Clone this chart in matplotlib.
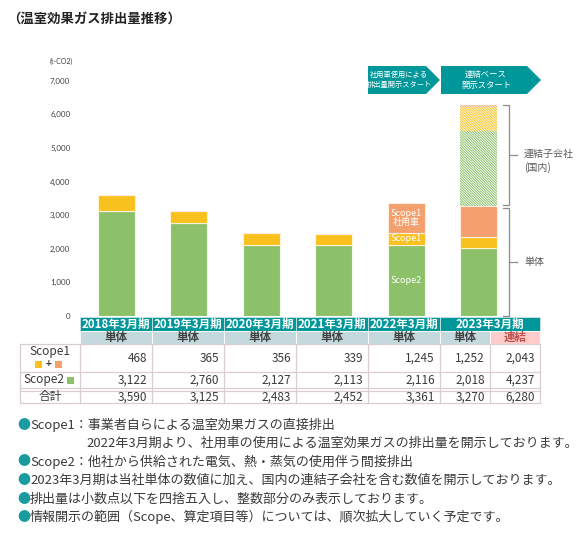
import matplotlib.pyplot as plt
from matplotlib.patches import Polygon, Rectangle
from matplotlib.ticker import FuncFormatter

plt.rcParams['font.family'] = ['Noto Sans CJK JP', 'DejaVu Sans']

# data (t-CO2)
years = ['2018年3月期', '2019年3月期', '2020年3月期', '2021年3月期', '2022年3月期', '2023年3月期']
scope2 = [3122, 2760, 2127, 2113, 2116, 2018]
scope1 = [468, 365, 356, 339, 350, 340]        # scope1 without company cars
scope1_car = [0, 0, 0, 0, 895, 912]            # scope1 company cars
# consolidated subsidiaries (domestic), 2023 only
sub_scope2 = 2219
sub_scope1 = 740
sub_scope1_car = 51

# table
tbl_heads = ['単体', '単体', '単体', '単体', '単体', '単体', '連結']
tbl_scope1 = [468, 365, 356, 339, 1245, 1252, 2043]
tbl_scope2 = [3122, 2760, 2127, 2113, 2116, 2018, 4237]
tbl_total = [3590, 3125, 2483, 2452, 3361, 3270, 6280]

notes = [
    'Scope1：事業者自らによる温室効果ガスの直接排出',
    '2022年3月期より、社用車の使用による温室効果ガスの排出量を開示しております。',
    'Scope2：他社から供給された電気、熱・蒸気の使用伴う間接排出',
    '2023年3月期は当社単体の数値に加え、国内の連結子会社を含む数値を開示しております。',
    '排出量は小数点以下を四捨五入し、整数部分のみ表示しております。',
    '情報開示の範囲（Scope、算定項目等）については、順次拡大していく予定です。',
]

GREEN = '#8CC16A'
YELLOW = '#F9C11E'
ORANGE = '#F3A06E'
TEAL = '#00979B'
SUBHEAD = '#C3D9DD'
PINK = '#FFCCCC'
LINE = '#D9CDCD'
TXT = '#3A3A3A'

fig = plt.figure(figsize=(5.87, 5.33), dpi=100)

# background axes in pixel coords
bg = fig.add_axes([0, 0, 1, 1])
bg.set_xlim(0, 587)
bg.set_ylim(533, 0)
bg.axis('off')

bg.text(7, 20, '（温室効果ガス排出量推移）', fontsize=9.6, fontweight='bold',
        color='#222222', va='center', ha='left')
bg.text(50, 61, '(t-CO2)', fontsize=5, color='#404040', va='center', ha='left',
        family='Lato')

# banners
b1 = Polygon([(368, 66), (426, 66), (440, 80), (426, 94), (368, 94)],
             closed=True, fc=TEAL, ec='none')
b2 = Polygon([(441, 66), (527, 66), (541, 80), (527, 94), (441, 94)],
             closed=True, fc=TEAL, ec='none')
bg.add_patch(b1)
bg.add_patch(b2)
bg.text(399, 80, '社用車使用による\n排出量開示スタート', fontsize=5.2, color='white',
        ha='center', va='center', linespacing=1.3)
bg.text(486, 80, '連結ベース\n開示スタート', fontsize=6, color='white',
        ha='center', va='center', linespacing=1.3)

# chart axes
ax = fig.add_axes([80 / 587, 1 - 316 / 533, 460 / 587, (316 - 80.7) / 533])
ax.patch.set_alpha(0)
x0 = -0.503
ax.set_xlim(x0, x0 + 460 / 72.5)
ax.set_ylim(0, 7000)
for s in ax.spines.values():
    s.set_visible(False)
ax.set_xticks([])
ax.set_yticks(range(0, 7001, 1000))
ax.yaxis.set_major_formatter(FuncFormatter(lambda v, p: f'{int(v):,}'))
ax.tick_params(axis='y', length=0, pad=7, labelsize=5.7, labelcolor='#404040')
for lab in ax.get_yticklabels():
    lab.set_family('Lato')

xs = list(range(len(years)))
w = 0.51
bot1 = scope2
bot2 = [a + b for a, b in zip(scope2, scope1)]
ax.bar(xs, scope2, w, color=GREEN, edgecolor='#F4FAEE', lw=0.8)
ax.bar(xs, scope1, w, bottom=bot1, color=YELLOW, edgecolor='#FFF4D6', lw=0.8)
ax.bar(xs, scope1_car, w, bottom=bot2, color=ORANGE, edgecolor='#FFEDE2', lw=0.8)

plt.rcParams['hatch.linewidth'] = 0.7
tot_single = bot2[-1] + scope1_car[-1]
hb = tot_single
for val, col in [(sub_scope2, GREEN), (sub_scope1, YELLOW), (sub_scope1_car, ORANGE)]:
    ax.bar(5, val, w, bottom=hb, color='white', edgecolor=col, lw=0,
           hatch='\\' * 13)
    hb += val

# labels on 2022 bar
ax.text(4, scope2[4] * 0.5, 'Scope2', color='white', fontsize=6.5, ha='center', va='center')
ax.text(4, bot1[4] + scope1[4] / 2, 'Scope1', color='white', fontsize=6.5, ha='center', va='center')
ax.text(4, bot2[4] + scope1_car[4] / 2, 'Scope1\n社用車', color='white', fontsize=6.5,
        ha='center', va='center', linespacing=1.05)

# brackets
xv, xh, xt = (509 - 116.5) / 72.5, (503 - 116.5) / 72.5, (517 - 116.5) / 72.5
up_lo, up_hi = tot_single + 40, hb
lo_lo, lo_hi = 0, tot_single - 45
for lo, hi in [(up_lo, up_hi), (lo_lo, lo_hi)]:
    ax.plot([xh, xv, xv, xh], [hi, hi, lo, lo], color='#8C8C8C', lw=0.9, clip_on=False)
    mid = (lo + hi) / 2
    ax.plot([xv, xt], [mid, mid], color='#8C8C8C', lw=0.9, clip_on=False)
xl = (524 - 116.5) / 72.5
ax.text(xl, (up_lo + up_hi) / 2 + 180, '連結子会社\n(国内)', fontsize=7.2, color='#595959',
        ha='left', va='top', linespacing=1.35)
ax.text(xl, (lo_lo + lo_hi) / 2, '単体', fontsize=7.2, color='#595959', ha='left', va='center')

# table
cols = [80, 152, 224, 296, 368, 440, 490, 540]
y_h0, y_h1, y_h2 = 317, 330.5, 344
y_r1, y_r2a, y_r2b, y_r3 = 372, 388, 390.5, 403

# year header
year_spans = [(cols[i], cols[i + 1]) for i in range(5)] + [(cols[5], cols[7])]
for (a, b), yr in zip(year_spans, years):
    bg.add_patch(Rectangle((a, y_h0), b - a, y_h1 - y_h0, fc=TEAL, ec='#CFE3E4', lw=0.6))
    bg.text((a + b) / 2, (y_h0 + y_h1) / 2 + 0.5, yr, color='white', fontsize=8.3,
            fontweight='bold', ha='center', va='center')
for i in range(7):
    a, b = cols[i], cols[i + 1]
    fc = PINK if tbl_heads[i] == '連結' else SUBHEAD
    bg.add_patch(Rectangle((a, y_h1), b - a, y_h2 - y_h1, fc=fc, ec='white', lw=0.6))
    tc = '#C0504D' if tbl_heads[i] == '連結' else '#404040'
    bg.text((a + b) / 2, (y_h1 + y_h2) / 2 + 0.5, tbl_heads[i], color=tc, fontsize=8.3,
            fontweight='bold', ha='center', va='center')

# body grid
left = 20
for yy in [y_h2, y_r1, y_r2a, y_r2b, y_r3]:
    bg.plot([left, cols[-1]], [yy, yy], color=LINE, lw=0.9)
for xx in [left] + cols:
    bg.plot([xx, xx], [y_h2, y_r3], color=LINE, lw=0.9)

for i in range(7):
    xr = cols[i + 1] - 5
    bg.text(xr, (y_h2 + y_r1) / 2, f'{tbl_scope1[i]:,}', fontsize=8.5, color=TXT,
            ha='right', va='center')
    bg.text(xr, (y_r1 + y_r2a) / 2, f'{tbl_scope2[i]:,}', fontsize=8.5, color=TXT,
            ha='right', va='center')
    bg.text(xr, (y_r2b + y_r3) / 2, f'{tbl_total[i]:,}', fontsize=8.5, color=TXT,
            ha='right', va='center')

# row labels
bg.text(50, 351.5, 'Scope1', fontsize=8.5, color=TXT, ha='center', va='center')
bg.add_patch(Rectangle((35, 361), 7, 7, fc=YELLOW, ec='none'))
bg.text(48.5, 364.5, '+', fontsize=7, color=TXT, ha='center', va='center', fontweight='bold')
bg.add_patch(Rectangle((55, 361), 7, 7, fc=ORANGE, ec='none'))
bg.text(44, (y_r1 + y_r2a) / 2, 'Scope2', fontsize=8.5, color=TXT, ha='center', va='center')
bg.add_patch(Rectangle((67, 376.5), 7, 7, fc=GREEN, ec='none'))
bg.text(50, (y_r2b + y_r3) / 2, '合計', fontsize=8.5, color=TXT, ha='center', va='center')

# notes
ny = [425, 443.5, 462, 480.5, 499, 517]
for k, (t, yy) in enumerate(zip(notes, ny)):
    if k == 1:
        bg.text(86, yy, t, fontsize=9.4, color=TXT, ha='left', va='center')
    else:
        bg.text(17, yy, '●', fontsize=9.4, color='#1A9BA0', ha='left', va='center')
        bg.text(30, yy, t, fontsize=9.4, color=TXT, ha='left', va='center')

fig.savefig('out.png', dpi=100)
